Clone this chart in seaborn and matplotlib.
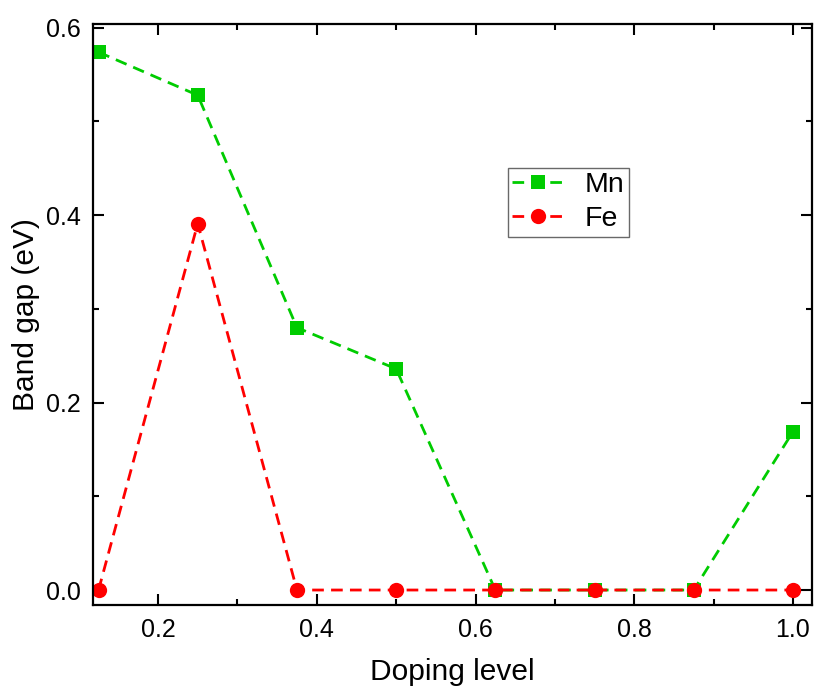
import matplotlib
matplotlib.use("Agg")
import matplotlib.pyplot as plt
import seaborn as sns
import pandas as pd
from matplotlib.ticker import MultipleLocator
from matplotlib.lines import Line2D

doping = [0.125, 0.25, 0.375, 0.5, 0.625, 0.75, 0.875, 1.0]
mn_gap = [0.574, 0.528, 0.280, 0.236, 0.0, 0.0, 0.0, 0.169]
fe_gap = [0.0, 0.391, 0.0, 0.0, 0.0, 0.0, 0.0, 0.0]
series = ["Mn", "Fe"]

df = pd.DataFrame({
    "Doping level": doping * 2,
    "Band gap (eV)": mn_gap + fe_gap,
    "Dopant": [series[0]] * len(doping) + [series[1]] * len(doping),
})

sns.set_style("ticks")
plt.rcParams["font.family"] = ["Liberation Sans", "DejaVu Sans"]
plt.rcParams["text.color"] = "black"
plt.rcParams["axes.labelcolor"] = "black"
plt.rcParams["xtick.color"] = "black"
plt.rcParams["ytick.color"] = "black"

fig = plt.figure(figsize=(8.17, 6.92), dpi=100)
ax = fig.add_axes([0.1138, 0.1257, 0.8801, 0.8396])

palette = {"Mn": "#00cc00", "Fe": "#ff0000"}
sizes = {"Mn": 9.5, "Fe": 11}
dash = (4.2, 2.6)
sns.lineplot(data=df, x="Doping level", y="Band gap (eV)", hue="Dopant",
             style="Dopant", markers={"Mn": "s", "Fe": "o"},
             dashes={"Mn": dash, "Fe": dash}, palette=palette,
             linewidth=2.0, markersize=10, markeredgewidth=0, ax=ax,
             legend=False)
for line in ax.lines:
    if line.get_marker() == "o":
        line.set_markersize(sizes["Fe"])
    else:
        line.set_markersize(sizes["Mn"])

ax.set_xlim(0.118, 1.024)
ax.set_ylim(-0.016, 0.604)
ax.xaxis.set_minor_locator(MultipleLocator(0.1))
ax.yaxis.set_minor_locator(MultipleLocator(0.1))
ax.set_xticks([0.2, 0.4, 0.6, 0.8, 1.0])
ax.set_xticklabels(["0.2", "0.4", "0.6", "0.8", "1.0"])
ax.set_yticks([0.0, 0.2, 0.4, 0.6])
ax.set_yticklabels(["0.0", "0.2", "0.4", "0.6"])

ax.tick_params(which="both", direction="in", top=True, right=True,
               width=1.5, colors="black")
ax.tick_params(which="major", length=8, labelsize=18, pad=9)
ax.tick_params(which="minor", length=4)
for s in ax.spines.values():
    s.set_linewidth(1.6)
    s.set_color("black")

ax.set_xlabel("Doping level", fontsize=21.5, labelpad=12, color="black")
ax.set_ylabel("Band gap (eV)", fontsize=21.5, labelpad=4, color="black")

handles = [
    Line2D([], [], color=palette["Mn"], marker="s", linestyle=(0, dash),
           linewidth=2.0, markersize=sizes["Mn"], markeredgewidth=0),
    Line2D([], [], color=palette["Fe"], marker="o", linestyle=(0, dash),
           linewidth=2.0, markersize=sizes["Fe"], markeredgewidth=0),
]
leg = ax.legend(handles, series, loc="upper left",
                bbox_to_anchor=(0.577, 0.752), fontsize=20.5,
                frameon=True, fancybox=False, edgecolor="#444444",
                handlelength=1.85, borderpad=0.15, labelspacing=0.28,
                handletextpad=0.7, borderaxespad=0, handleheight=0.7)
leg.get_frame().set_linewidth(1.0)
for t in leg.get_texts():
    t.set_color("black")

fig.savefig("out.png", dpi=100)
